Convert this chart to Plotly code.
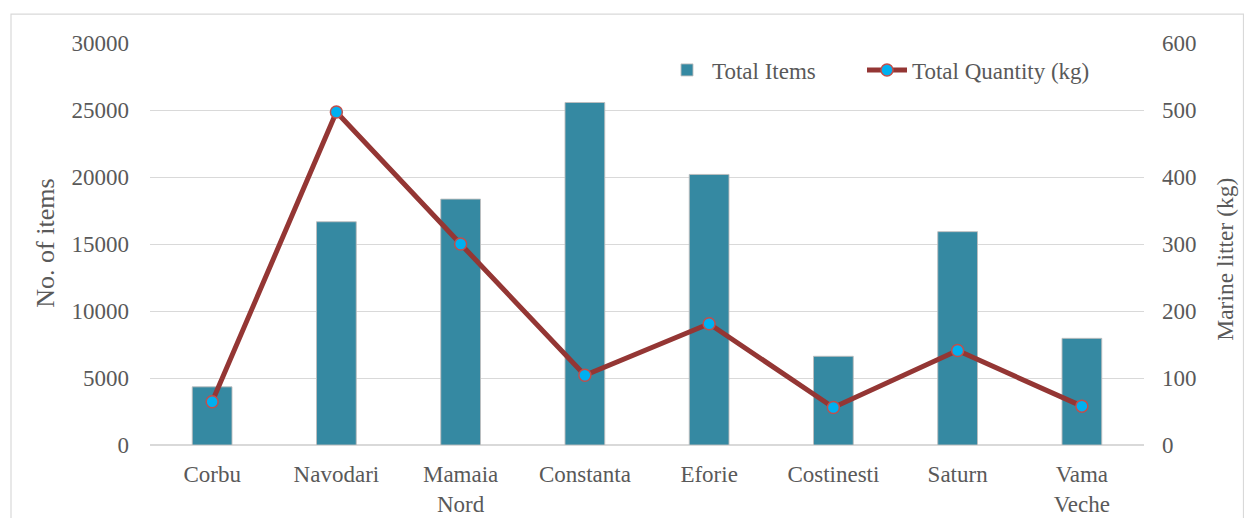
import plotly.graph_objects as go

# Beach survey results per site
sites = ["Corbu", "Navodari", "Mamaia<br>Nord", "Constanta", "Eforie",
         "Costinesti", "Saturn", "Vama<br>Veche"]
total_items = [4340, 16660, 18350, 25560, 20190, 6620, 15920, 7960]
total_kg = [64.5, 497, 300, 104, 181, 56, 141, 58]

left_ticks = [0, 5000, 10000, 15000, 20000, 25000, 30000]
right_ticks = [0, 100, 200, 300, 400, 500, 600]

FONT = "Liberation Serif"
TEXT = "#595959"
GRID = "#d9d9d9"
FS = 23

fig = go.Figure()

fig.add_trace(go.Bar(
    x=sites, y=total_items, name="Total Items",
    marker=dict(color="#3589A2", line=dict(color="rgba(190,190,190,0.9)", width=1)),
    yaxis="y", legend="legend",
))

fig.add_trace(go.Scatter(
    x=sites, y=total_kg, name="Total Quantity (kg)",
    mode="lines+markers",
    line=dict(color="#943634", width=5),
    marker=dict(size=12, color="#00B0F0", line=dict(color="#C0504D", width=1.5)),
    yaxis="y2", legend="legend2",
))

W, H = 1244, 518
L, R, T, B = 150, 100, 43, 72.5
pw, ph = W - L - R, H - T - B

def px_x(x):
    return (x - L) / pw

def px_y(y):
    return (H - B - y) / ph

legend_style = dict(
    orientation="h", xanchor="left", yanchor="middle",
    font=dict(family=FONT, size=FS, color=TEXT),
    bgcolor="rgba(0,0,0,0)", itemwidth=40,
)

fig.update_layout(
    width=W, height=H,
    margin=dict(l=L, r=R, t=T, b=B, pad=0, autoexpand=False),
    paper_bgcolor="white", plot_bgcolor="white",
    font=dict(family=FONT, size=FS, color=TEXT),
    bargap=0.68,
    showlegend=True,
    legend=dict(x=px_x(662), y=px_y(70), **legend_style),
    legend2=dict(x=px_x(862), y=px_y(70), **legend_style),
    xaxis=dict(
        showgrid=False, showline=False, zeroline=False, automargin=False,
        ticks="outside", ticklen=8, tickcolor="rgba(0,0,0,0)",
        tickfont=dict(family=FONT, size=FS, color=TEXT),
        range=[-0.5, 7.5],
    ),
    yaxis=dict(
        range=[0, 30000], tickvals=left_ticks, tickformat="d", automargin=False,
        showgrid=True, gridcolor=GRID, gridwidth=1.3,
        zeroline=True, zerolinecolor=GRID, zerolinewidth=1.5,
        showline=False, ticks="", ticklabelstandoff=20,
        tickfont=dict(family=FONT, size=FS, color=TEXT),
    ),
    yaxis2=dict(
        range=[0, 600], tickvals=right_ticks, tickformat="d", automargin=False,
        overlaying="y", side="right",
        showgrid=False, zeroline=False, showline=False, ticks="",
        ticklabelstandoff=17,
        tickfont=dict(family=FONT, size=FS, color=TEXT),
    ),
    annotations=[
        dict(text="No. of items", xref="paper", yref="paper",
             x=px_x(46), y=px_y(244), textangle=-90, showarrow=False,
             xanchor="center", yanchor="middle",
             font=dict(family=FONT, size=26, color=TEXT)),
        dict(text="Marine litter (kg)", xref="paper", yref="paper",
             x=px_x(1225), y=px_y(260), textangle=-90, showarrow=False,
             xanchor="center", yanchor="middle",
             font=dict(family=FONT, size=23.5, color=TEXT)),
    ],
    shapes=[
        dict(type="rect", xref="paper", yref="paper",
             x0=px_x(11), x1=px_x(1243.5), y0=px_y(530), y1=px_y(14),
             line=dict(color=GRID, width=1.2), fillcolor="rgba(0,0,0,0)",
             layer="below"),
    ],
)

fig.write_html("out.html")
